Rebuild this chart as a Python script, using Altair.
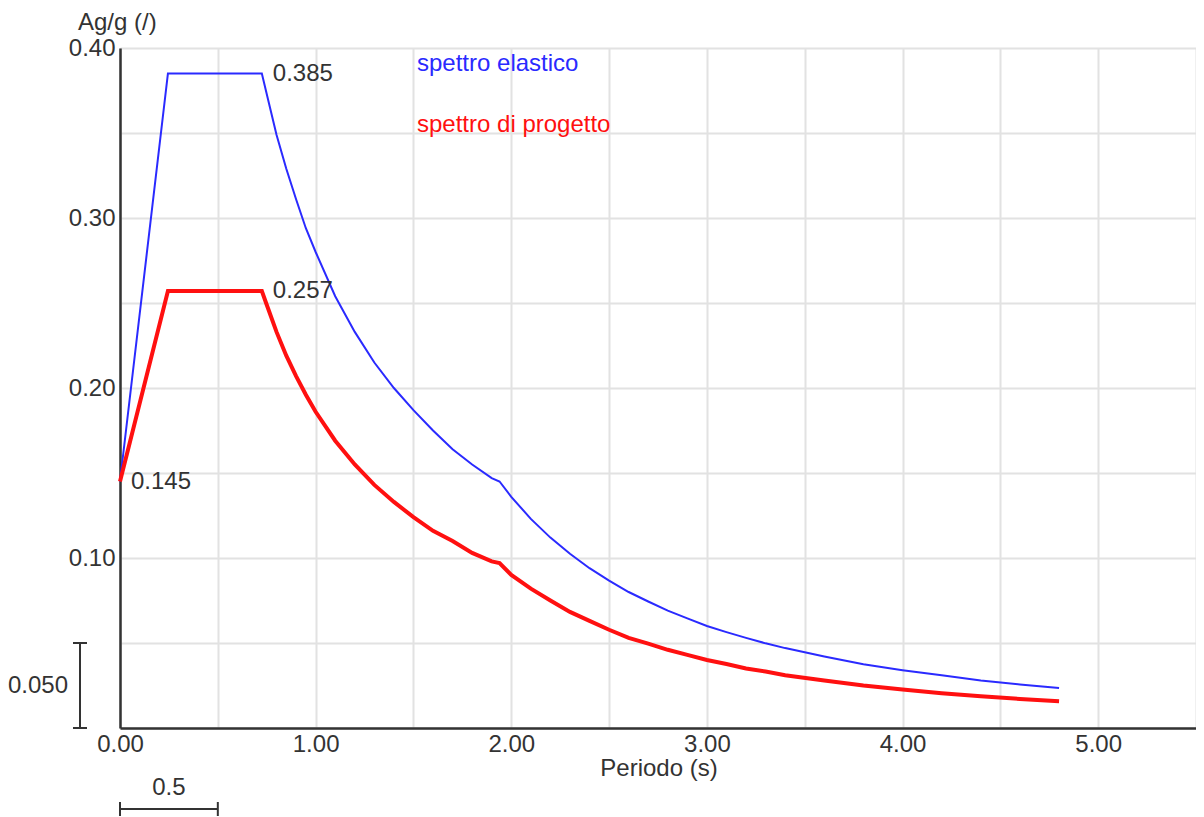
import altair as alt
import pandas as pd

# ---- data ----
periods = [0.0, 0.245, 0.725, 0.75, 0.8, 0.85, 0.9, 0.95, 1.0, 1.1, 1.2, 1.3, 1.4, 1.5, 1.6,
           1.7, 1.8, 1.9, 1.94, 2.0, 2.1, 2.2, 2.3, 2.4, 2.5, 2.6, 2.7, 2.8, 2.9, 3.0, 3.1,
           3.2, 3.3, 3.4, 3.6, 3.8, 4.0, 4.2, 4.4, 4.6, 4.8]
elastic = [0.145, 0.385, 0.385, 0.373, 0.349, 0.329, 0.311, 0.294, 0.280, 0.254, 0.233, 0.215,
           0.200, 0.187, 0.175, 0.164, 0.155, 0.147, 0.145, 0.136, 0.123, 0.112, 0.1025, 0.094,
           0.0867, 0.080, 0.0744, 0.069, 0.0645, 0.060, 0.0564, 0.053, 0.0498, 0.047, 0.042,
           0.0375, 0.034, 0.031, 0.028, 0.0256, 0.0235]
design = [0.145, 0.257, 0.257, 0.249, 0.233, 0.219, 0.207, 0.196, 0.186, 0.169, 0.155, 0.143,
          0.133, 0.124, 0.116, 0.110, 0.103, 0.098, 0.097, 0.090, 0.082, 0.075, 0.0683, 0.063,
          0.0578, 0.053, 0.0496, 0.046, 0.043, 0.040, 0.0376, 0.035, 0.0332, 0.031, 0.028,
          0.025, 0.0226, 0.0205, 0.0187, 0.0171, 0.0157]

series_names = ["spettro elastico", "spettro di progetto"]
series_colors = ["#2a2aff", "#ff1010"]

annot_T = [0.725, 0.725, 0.0]
annot_v = [0.385, 0.257, 0.145]
annot_txt = ["0.385", "0.257", "0.145"]

x_ticks = [0.0, 0.5, 1.0, 1.5, 2.0, 2.5, 3.0, 3.5, 4.0, 4.5, 5.0, 5.5]
y_ticks = [0.0, 0.05, 0.10, 0.15, 0.20, 0.25, 0.30, 0.35, 0.40]

scale_y_len = 0.05
scale_x_len = 0.5

FONT = "Liberation Sans"
FS = 24
TXT = "#333333"

el_df = pd.DataFrame({"T": periods, "v": elastic})
de_df = pd.DataFrame({"T": periods, "v": design})
an_df = pd.DataFrame({"T": annot_T, "v": annot_v, "t": annot_txt})
one = pd.DataFrame({"k": [0]})

xs = alt.Scale(domain=[0, 5.5], nice=False, zero=False)
ys = alt.Scale(domain=[0, 0.40], nice=False, zero=False)

x_axis = alt.Axis(values=x_ticks, labelExpr="datum.value % 1 == 0 ? format(datum.value, '.2f') : ''",
                  grid=True, gridColor="#e2e2e2", gridWidth=2, ticks=False,
                  domain=True, domainColor="#333333", domainWidth=2.5,
                  labelFont=FONT, labelFontSize=FS, labelColor=TXT, labelFlush=False,
                  labelOverlap=False, labelPadding=4, title=None)
y_axis = alt.Axis(values=y_ticks,
                  labelExpr="(round(datum.value*20) % 2 == 0 && datum.value > 0) ? format(datum.value, '.2f') : ''",
                  grid=True, gridColor="#e2e2e2", gridWidth=2, ticks=False,
                  domain=True, domainColor="#333333", domainWidth=2.5,
                  labelFont=FONT, labelFontSize=FS, labelColor=TXT,
                  labelOverlap=False, labelPadding=5, title=None)

base_el = alt.Chart(el_df).mark_line(color=series_colors[0], strokeWidth=2).encode(
    x=alt.X("T:Q", scale=xs, axis=x_axis),
    y=alt.Y("v:Q", scale=ys, axis=y_axis),
)
base_de = alt.Chart(de_df).mark_line(color=series_colors[1], strokeWidth=4).encode(
    x=alt.X("T:Q", scale=xs), y=alt.Y("v:Q", scale=ys)
)

annots = alt.Chart(an_df).mark_text(align="left", baseline="middle", dx=11, font=FONT,
                                    fontSize=FS, color=TXT).encode(
    x=alt.X("T:Q", scale=xs), y=alt.Y("v:Q", scale=ys), text="t:N"
)

leg1 = alt.Chart(one).mark_text(align="left", baseline="alphabetic", font=FONT, fontSize=FS,
                                color=series_colors[0], text=series_names[0]).encode(
    x=alt.value(297), y=alt.value(23))
leg2 = alt.Chart(one).mark_text(align="left", baseline="alphabetic", font=FONT, fontSize=FS,
                                color=series_colors[1], text=series_names[1]).encode(
    x=alt.value(297), y=alt.value(84))

ytitle = alt.Chart(one).mark_text(align="left", baseline="alphabetic", font=FONT, fontSize=FS,
                                  color=TXT, text="Ag/g (/)").encode(
    x=alt.value(-42), y=alt.value(-18.5))
xtitle = alt.Chart(one).mark_text(align="center", baseline="alphabetic", font=FONT, fontSize=FS,
                                  color=TXT, text="Periodo (s)").encode(
    x=alt.value(539), y=alt.value(728))

# vertical scale bar (0.050)
vbar = alt.Chart(one).mark_rule(color=TXT, strokeWidth=2).encode(
    x=alt.value(-40), y=alt.datum(0), y2=alt.datum(scale_y_len))
vcap0 = alt.Chart(one).mark_rule(color=TXT, strokeWidth=2).encode(
    x=alt.value(-47), x2=alt.value(-33), y=alt.datum(0))
vcap1 = alt.Chart(one).mark_rule(color=TXT, strokeWidth=2).encode(
    x=alt.value(-47), x2=alt.value(-33), y=alt.datum(scale_y_len))
vlab = alt.Chart(one).mark_text(align="right", baseline="middle", font=FONT, fontSize=FS,
                                color=TXT, text="0.050").encode(
    x=alt.value(-52), y=alt.datum(scale_y_len / 2))

# horizontal scale bar (0.5)
hbar = alt.Chart(one).mark_rule(color=TXT, strokeWidth=2).encode(
    x=alt.datum(0), x2=alt.datum(scale_x_len), y=alt.value(761))
hcap0 = alt.Chart(one).mark_rule(color=TXT, strokeWidth=2).encode(
    x=alt.datum(0), y=alt.value(754), y2=alt.value(768))
hcap1 = alt.Chart(one).mark_rule(color=TXT, strokeWidth=2).encode(
    x=alt.datum(scale_x_len), y=alt.value(754), y2=alt.value(768))
hlab = alt.Chart(one).mark_text(align="center", baseline="alphabetic", font=FONT, fontSize=FS,
                                color=TXT, text="0.5").encode(
    x=alt.datum(scale_x_len / 2), y=alt.value(747))

chart = alt.layer(
    base_el, base_de, annots, leg1, leg2, ytitle, xtitle,
    vbar, vcap0, vcap1, vlab, hbar, hcap0, hcap1, hlab
).properties(
    width=1076, height=680,
    padding={"left": 112, "top": 40, "right": 0, "bottom": 88},
    autosize=alt.AutoSizeParams(type="none"),
).configure_view(stroke=None).configure(background="white")

chart.save("out.html", embed_options={"renderer": "svg", "actions": False})
